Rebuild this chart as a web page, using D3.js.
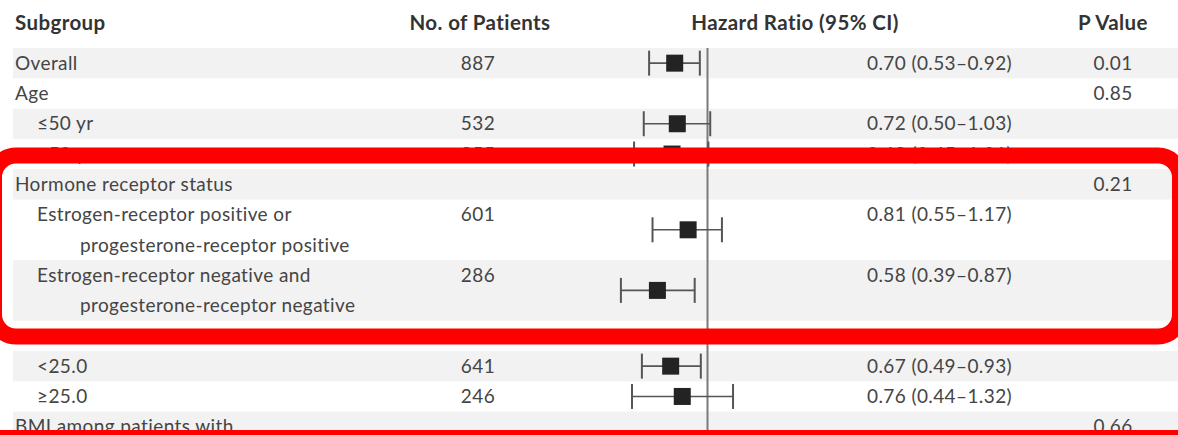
<!DOCTYPE html>
<html>
<head>
<meta charset="utf-8">
<script src="https://cdn.jsdelivr.net/npm/d3@7"></script>
<style>
  html, body { margin: 0; padding: 0; background: #fff; }
  svg { display: block; }
  text { font-family: Lato, "Noto Sans", sans-serif; }
</style>
</head>
<body>
<svg id="chart" width="1178" height="435"></svg>
<script>
// Column headings
const headers = ["Subgroup", "No. of Patients", "Hazard Ratio (95% CI)", "P Value"];

// Subgroup rows (a label may wrap onto a second line)
const rowLabels = [
  ["Overall"],
  ["Age"],
  ["≤50 yr"],
  [">50 yr"],
  ["Hormone receptor status"],
  ["Estrogen-receptor positive or", "progesterone-receptor positive"],
  ["Estrogen-receptor negative and", "progesterone-receptor negative"],
  ["BMI"],
  ["<25.0"],
  ["≥25.0"],
  ["BMI among patients with"]
];
const rowIndent = [0, 0, 1, 1, 0, 1, 1, 0, 1, 1, 0];
const patients = ["887", "", "532", "355", "", "601", "286", "", "641", "246", ""];
const hazardRatio = [0.70, null, 0.72, 0.68, null, 0.81, 0.58, null, 0.67, 0.76, null];
const ciLower = [0.53, null, 0.50, 0.45, null, 0.55, 0.39, null, 0.49, 0.44, null];
const ciUpper = [0.92, null, 1.03, 1.01, null, 1.17, 0.87, null, 0.93, 1.32, null];
const pValues = ["0.01", "0.85", "", "", "0.21", "", "", "0.79", "", "", "0.66"];

const W = 1178, H = 435;
const svg = d3.select("#chart");

// Stack rows by their number of text lines
let acc = 0;
const rows = rowLabels.map((lines, i) => {
  const r = {
    i, lines, start: acc, n: lines.length,
    indent: rowIndent[i], patients: patients[i],
    hr: hazardRatio[i], lo: ciLower[i], hi: ciUpper[i], p: pValues[i]
  };
  acc += lines.length;
  return r;
});
const totalLines = acc;
const lineH = 30.3;
const tableTop = 48;
const y = d3.scaleLinear().domain([0, totalLines]).range([tableTop, tableTop + totalLines * lineH]);

// Hazard ratio axis (log)
const x = d3.scaleLog().domain([0.25, 4]).range([580, 835]);

const col = { label: 15, indent: 37, wrap: 80, n: 478, hrText: 867, p: 1113 };
const f2 = d3.format(".2f");

// Alternating row shading
svg.append("g").selectAll("rect")
  .data(rows.filter(r => r.i % 2 === 0))
  .join("rect")
  .attr("x", 13).attr("width", W - 13)
  .attr("y", r => y(r.start)).attr("height", r => y(r.start + r.n) - y(r.start))
  .attr("fill", "#f2f2f2");

// Headings
const hdr = svg.append("g").attr("font-weight", 700).attr("font-size", 20.5)
  .attr("letter-spacing", 0.4).attr("fill", "#333");
hdr.append("text").attr("x", col.label).attr("y", 29.5).text(headers[0]);
hdr.append("text").attr("x", 480).attr("y", 29.5).attr("text-anchor", "middle").text(headers[1]);
hdr.append("text").attr("x", 795).attr("y", 29.5).attr("text-anchor", "middle").text(headers[2]);
hdr.append("text").attr("x", col.p).attr("y", 29.5).attr("text-anchor", "middle").text(headers[3]);

// Reference line at HR = 1
svg.append("line")
  .attr("x1", x(1)).attr("x2", x(1))
  .attr("y1", tableTop).attr("y2", H)
  .attr("stroke", "#7a7a7a").attr("stroke-width", 2);

// Row text
const body = svg.append("g").attr("font-size", 19).attr("letter-spacing", 0.4).attr("fill", "#454545");
rows.forEach(r => {
  r.lines.forEach((t, k) => {
    const xx = k === 0 ? (r.indent ? col.indent : col.label) : col.wrap;
    body.append("text").attr("x", xx).attr("y", y(r.start + k + 0.5)).attr("dy", "0.35em").text(t);
  });
  const yl = y(r.start + 0.5);
  if (r.patients) body.append("text").attr("x", col.n).attr("y", yl).attr("dy", "0.35em")
    .attr("text-anchor", "middle").text(r.patients);
  if (r.hr != null) body.append("text").attr("x", col.hrText).attr("y", yl).attr("dy", "0.35em")
    .text(`${f2(r.hr)} (${f2(r.lo)}–${f2(r.hi)})`);
  if (r.p) body.append("text").attr("x", col.p).attr("y", yl).attr("dy", "0.35em")
    .attr("text-anchor", "middle").text(r.p);
});

// Confidence intervals and point estimates
const est = rows.filter(r => r.hr != null);
const ci = svg.append("g").attr("stroke", "#555").attr("stroke-width", 1.6);
const cy = r => y(r.start + r.n / 2);
ci.selectAll("line.whisker").data(est).join("line").attr("class", "whisker")
  .attr("x1", r => x(r.lo)).attr("x2", r => x(r.hi)).attr("y1", cy).attr("y2", cy);
ci.selectAll("line.capL").data(est).join("line").attr("class", "capL")
  .attr("x1", r => x(r.lo)).attr("x2", r => x(r.lo))
  .attr("y1", r => cy(r) - 12.5).attr("y2", r => cy(r) + 12.5).attr("stroke-width", 2);
ci.selectAll("line.capR").data(est).join("line").attr("class", "capR")
  .attr("x1", r => x(r.hi)).attr("x2", r => x(r.hi))
  .attr("y1", r => cy(r) - 12.5).attr("y2", r => cy(r) + 12.5).attr("stroke-width", 2);
const sq = 17;
svg.append("g").selectAll("rect").data(est).join("rect")
  .attr("x", r => x(r.hr) - sq / 2).attr("y", r => cy(r) - sq / 2)
  .attr("width", sq).attr("height", sq).attr("fill", "#232323");

// Red highlight around the hormone-receptor block, and the edge of the next one
svg.append("rect")
  .attr("x", -6).attr("y", 155.5).attr("width", 1186).attr("height", 181)
  .attr("rx", 22).attr("ry", 22)
  .attr("fill", "none").attr("stroke", "#ff0000").attr("stroke-width", 16);
svg.append("rect")
  .attr("x", 0).attr("y", 430).attr("width", W).attr("height", 10)
  .attr("fill", "#ff0000");
</script>
</body>
</html>
